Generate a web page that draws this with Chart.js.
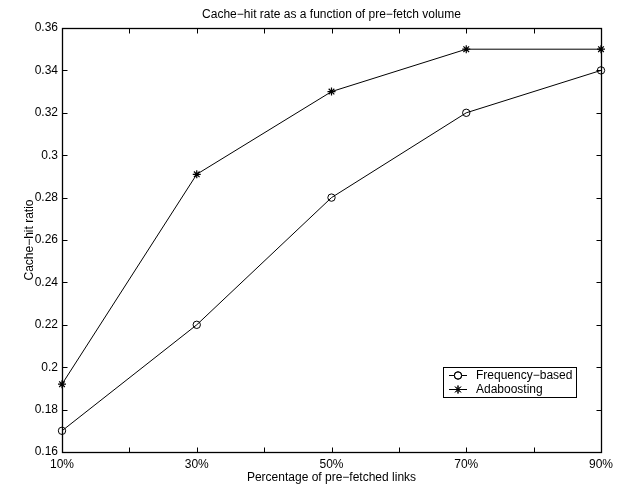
<!DOCTYPE html>
<html><head><meta charset="utf-8">
<script src="https://cdn.jsdelivr.net/npm/chart.js@4"></script>
<style>html,body{margin:0;padding:0;background:#fff}#wrap{width:623px;height:487px;position:relative}</style>
</head><body><div id="wrap"><canvas id="c"></canvas></div>
<script>
const titleText = 'Cache\u2212hit rate as a function of pre\u2212fetch volume';
const xTitle = 'Percentage of pre\u2212fetched links';
const yTitle = 'Cache\u2212hit ratio';
const xValues = [10, 30, 50, 70, 90];
const xTickLabels = ['10%', '30%', '50%', '70%', '90%'];
const frequencyBased = [0.17, 0.22, 0.28, 0.32, 0.34];
const adaboosting = [0.192, 0.291, 0.33, 0.35, 0.35];
const seriesNames = ['Frequency\u2212based', 'Adaboosting'];
const yMin = 0.16, yMax = 0.36, yStep = 0.02;
const xMin = 10, xMax = 90, xStep = 10;

const FONT = '"Liberation Sans", Arial, Helvetica, sans-serif';

const decor = {
  id: 'decor',
  afterDatasetsDraw(chart) {
    const ctx = chart.ctx;
    const a = chart.chartArea;
    const xs = chart.scales.x, ys = chart.scales.y;
    ctx.save();
    ctx.strokeStyle = '#000';
    ctx.lineWidth = 1;
    const L = Math.round(a.left) + 0.5, R = Math.round(a.right) + 0.5;
    const T = Math.round(a.top) + 0.5, B = Math.round(a.bottom) + 0.5;
    const tl = 5;
    ctx.beginPath();
    xs.ticks.forEach(t => {
      const p = Math.round(xs.getPixelForValue(t.value)) + 0.5;
      if (p <= L + 1 || p >= R - 1) return;
      ctx.moveTo(p, B); ctx.lineTo(p, B - tl);
      ctx.moveTo(p, T); ctx.lineTo(p, T + tl);
    });
    ys.ticks.forEach(t => {
      const p = Math.round(ys.getPixelForValue(t.value)) + 0.5;
      if (p <= T + 1 || p >= B - 1) return;
      ctx.moveTo(L, p); ctx.lineTo(L + tl, p);
      ctx.moveTo(R, p); ctx.lineTo(R - tl, p);
    });
    ctx.stroke();
    ctx.lineWidth = 1.3;
    ctx.strokeRect(L, T, R - L, B - T);

    // title
    ctx.fillStyle = '#000';
    ctx.font = '12px ' + FONT;
    ctx.textAlign = 'center';
    ctx.textBaseline = 'middle';
    ctx.fillText(titleText, (a.left + a.right) / 2, 15);

    // legend
    const bx = 443.5, by = 367.5, bw = 133, bh = 30;
    ctx.fillStyle = '#fff';
    ctx.fillRect(bx, by, bw, bh);
    ctx.lineWidth = 1;
    ctx.strokeStyle = '#000';
    ctx.strokeRect(bx, by, bw, bh);
    const rows = [375, 389];
    chart.data.datasets.forEach((ds, i) => {
      const y = rows[i] + 0.5;
      ctx.beginPath();
      ctx.lineWidth = 1;
      ctx.moveTo(449, y); ctx.lineTo(467, y);
      ctx.stroke();
      Chart.helpers.drawPoint(ctx, {pointStyle: ds.pointStyle, radius: ds.pointRadius, borderWidth: 1}, 458, y);
      ctx.stroke();
      ctx.fillStyle = '#000';
      ctx.textAlign = 'left';
      ctx.textBaseline = 'middle';
      ctx.fillText(ds.label, 476, y);
    });
    ctx.restore();
  }
};

new Chart(document.getElementById('c'), {
  type: 'line',
  data: {
    datasets: [
      {
        label: seriesNames[0],
        data: xValues.map((x, i) => ({x, y: frequencyBased[i]})),
        borderColor: '#000', backgroundColor: 'rgba(0,0,0,0)',
        borderWidth: 1, pointStyle: 'circle', pointRadius: 3.7,
        pointBorderWidth: 1, pointBorderColor: '#000', pointBackgroundColor: 'rgba(0,0,0,0)',
        tension: 0, clip: false
      },
      {
        label: seriesNames[1],
        data: xValues.map((x, i) => ({x, y: adaboosting[i]})),
        borderColor: '#000', backgroundColor: '#000',
        borderWidth: 1, pointStyle: 'star', pointRadius: 4,
        pointBorderWidth: 1.2, pointBorderColor: '#000', pointBackgroundColor: '#000',
        tension: 0, clip: false
      }
    ]
  },
  options: {
    responsive: true,
    maintainAspectRatio: false,
    animation: false,
    events: [],
    layout: {padding: {top: 28, right: 22, left: 0, bottom: 0}},
    plugins: {legend: {display: false}, title: {display: false}, tooltip: {enabled: false}},
    scales: {
      x: {
        type: 'linear', min: xMin, max: xMax,
        grid: {display: false, drawTicks: false},
        border: {display: false},
        ticks: {
          stepSize: xStep, autoSkip: false, maxRotation: 0, padding: 5,
          color: '#000', font: {family: FONT, size: 12},
          callback: (v) => { const i = xValues.indexOf(v); return i >= 0 ? xTickLabels[i] : ''; }
        },
        title: {display: true, text: xTitle, color: '#000', font: {family: FONT, size: 12}, padding: {top: 0, bottom: 2}},
        afterFit: (s) => { s.height = 35; }
      },
      y: {
        min: yMin, max: yMax,
        grid: {display: false, drawTicks: false},
        border: {display: false},
        ticks: {
          stepSize: yStep, padding: 4, color: '#000', font: {family: FONT, size: 12},
          callback: (v) => String(parseFloat(Number(v).toFixed(2)))
        },
        title: {display: true, text: yTitle, color: '#000', font: {family: FONT, size: 12}, padding: {top: 22, bottom: 0}},
        afterFit: (s) => { s.width = 62; }
      }
    }
  },
  plugins: [decor]
});
</script>
</body></html>
